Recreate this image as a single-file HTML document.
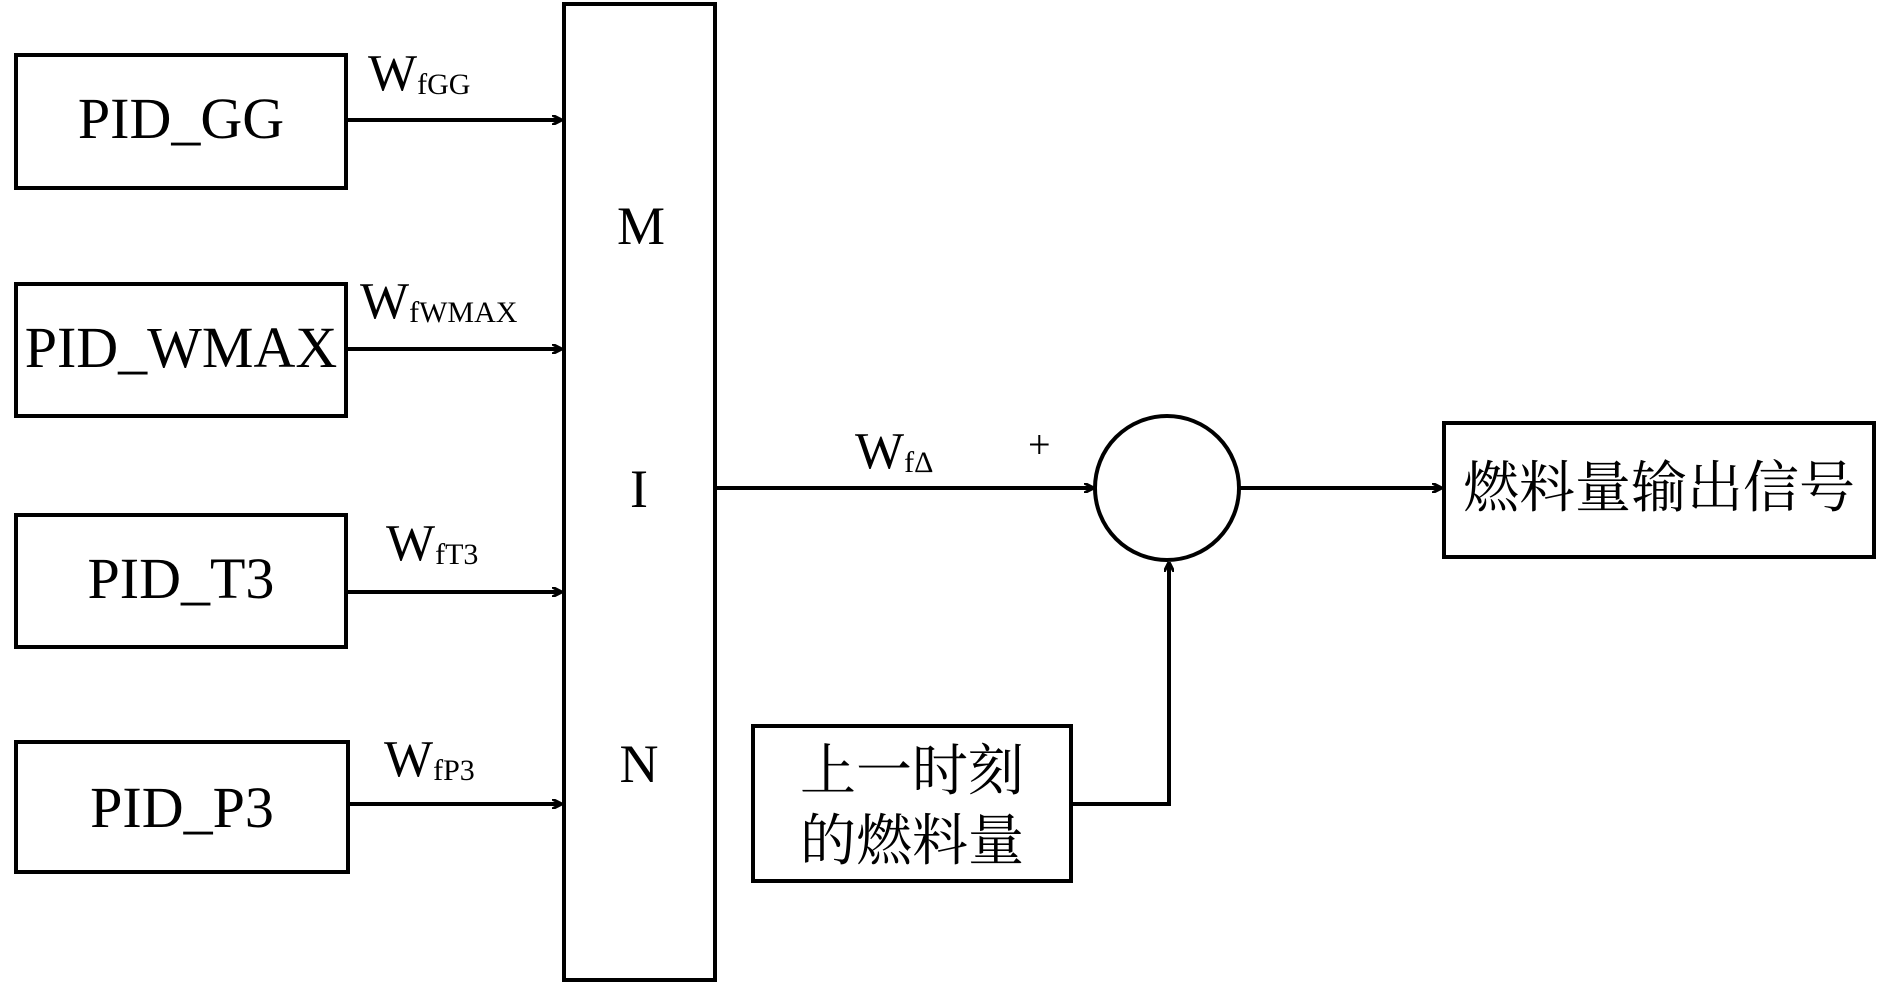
<!DOCTYPE html>
<html><head><meta charset="utf-8"><style>
html,body{margin:0;padding:0;background:#fff;}
svg{display:block;}
text{font-family:"Liberation Serif","Noto Serif CJK SC",serif;fill:#000;}
.cjk{font-family:"Liberation Serif","Noto Serif CJK SC","Noto Sans CJK SC",serif;}
</style></head><body>
<svg width="1890" height="983" viewBox="0 0 1890 983" xmlns="http://www.w3.org/2000/svg">
<defs><marker id="a" markerWidth="10" markerHeight="10" refX="9" refY="5" orient="auto" markerUnits="userSpaceOnUse"><path d="M0,0 L10,5 L0,10" fill="none" stroke="#000" stroke-width="3"/></marker></defs>
<g fill="none" stroke="#000" stroke-width="4">
<rect x="16" y="55" width="330" height="133"/>
<rect x="16" y="284" width="330" height="132"/>
<rect x="16" y="515" width="330" height="132"/>
<rect x="16" y="742" width="332" height="130"/>
<rect x="564" y="4" width="151" height="976"/>
<rect x="1444" y="423" width="430" height="134"/>
<rect x="753" y="726" width="318" height="155"/>
<ellipse cx="1167" cy="488" rx="72" ry="72"/>
</g>
<g stroke="#000" stroke-width="4" fill="none" marker-end="url(#a)">
<line x1="346" y1="120" x2="561" y2="120"/>
<line x1="346" y1="349" x2="561" y2="349"/>
<line x1="346" y1="592" x2="561" y2="592"/>
<line x1="348" y1="804" x2="561" y2="804"/>
<line x1="715" y1="488" x2="1093" y2="488"/>
<line x1="1239" y1="488" x2="1441" y2="488"/>
<polyline points="1071,804 1169,804 1169,563"/>
</g>
<g font-size="58" text-anchor="middle">
<text x="181" y="138">PID_GG</text>
<text x="181" y="367">PID_WMAX</text>
<text x="181" y="598">PID_T3</text>
<text x="182" y="827">PID_P3</text>
</g>
<g font-size="54" text-anchor="middle">
<text x="641" y="244">M</text>
<text x="639" y="507">I</text>
<text x="639" y="782">N</text>
</g>
<g font-size="52">
<text x="368" y="90">W<tspan font-size="30" dy="4">fGG</tspan></text>
<text x="360" y="318">W<tspan font-size="30" dy="4">fWMAX</tspan></text>
<text x="386" y="560">W<tspan font-size="30" dy="4">fT3</tspan></text>
<text x="384" y="776">W<tspan font-size="30" dy="4">fP3</tspan></text>
<text x="855" y="468">W<tspan font-size="30" dy="4">fΔ</tspan></text>
</g>
<text x="1028" y="458" font-size="40">+</text>
<text class="cjk" x="1659" y="507" font-size="56" text-anchor="middle">燃料量输出信号</text>
<text class="cjk" x="912" y="790" font-size="56" text-anchor="middle">上一时刻</text>
<text class="cjk" x="912" y="860" font-size="56" text-anchor="middle">的燃料量</text>
</svg>
</body></html>
